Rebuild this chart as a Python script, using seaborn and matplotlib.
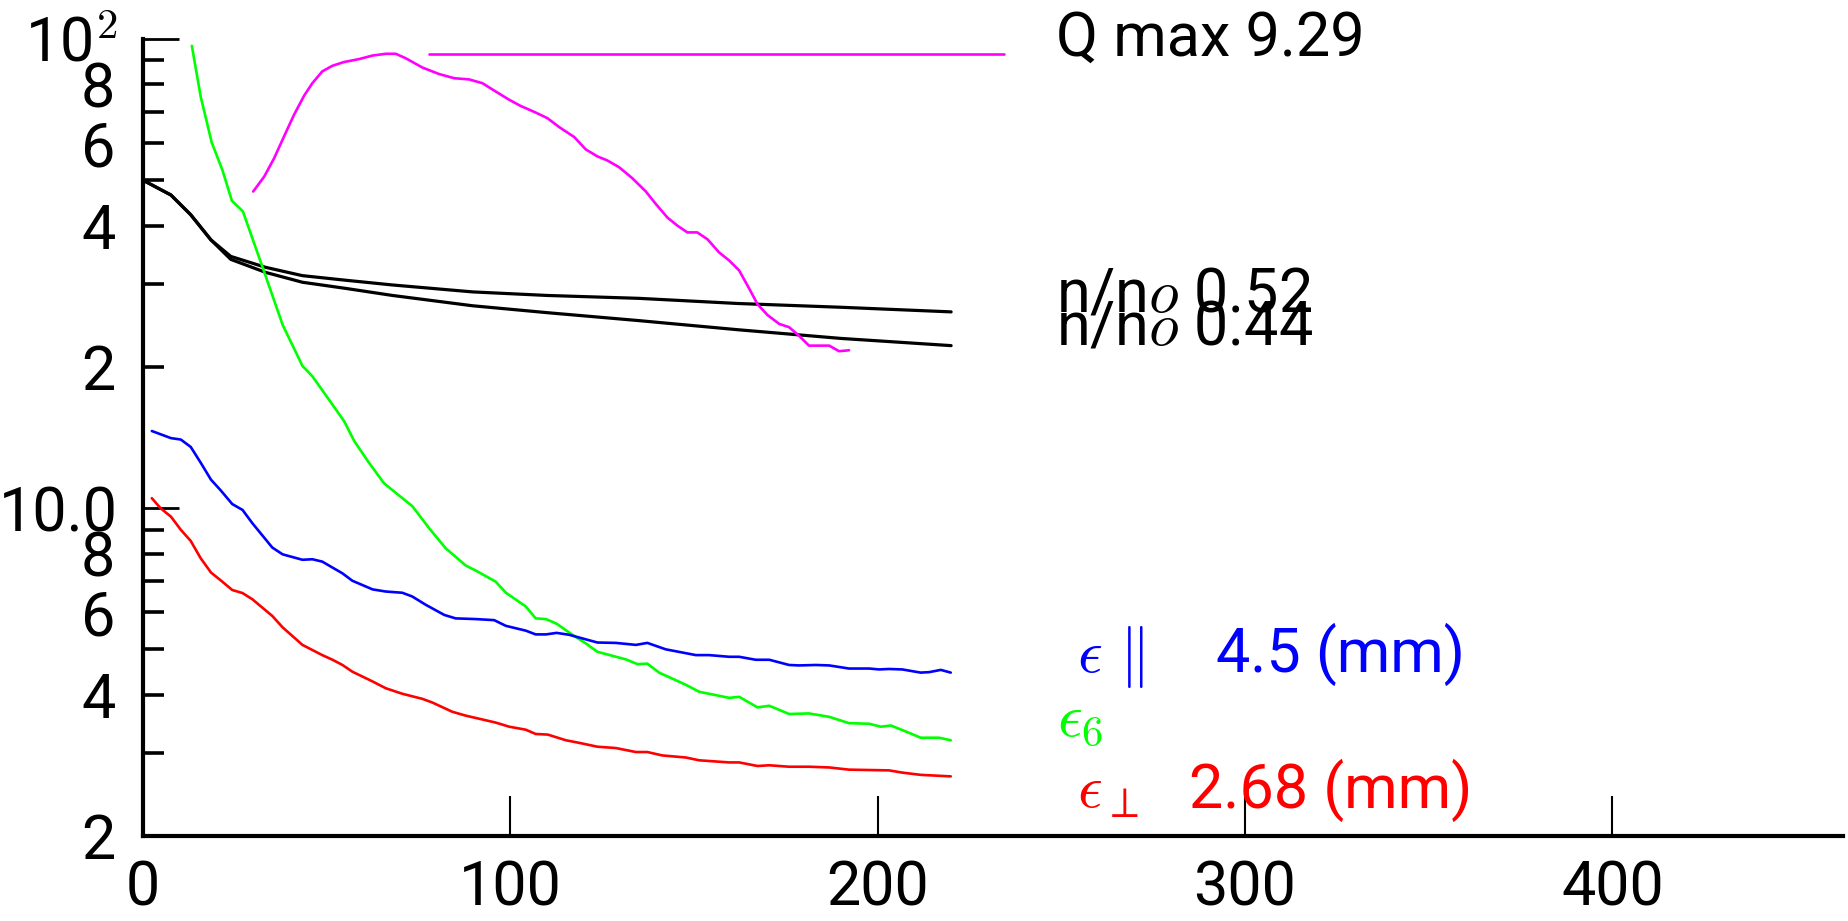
import matplotlib
matplotlib.use("Agg")
import matplotlib.pyplot as plt
import seaborn as sns
import pandas as pd

# ---------------- data ----------------
n_x = [0, 7.6, 13.0, 18.5, 23.9, 33.4, 43.4, 55.2, 67.9, 89.7, 110, 135, 162, 190, 220]
n_upper = [50.0, 46.5, 42.2, 37.3, 34.4, 32.6, 31.3, 30.6, 29.9, 28.9, 28.4, 28.0, 27.3, 26.8, 26.2]
n_lower = [50.0, 46.5, 42.2, 37.3, 33.9, 31.8, 30.3, 29.4, 28.4, 27.0, 26.1, 25.1, 24.0, 23.0, 22.2]

eps6_x = [13.3, 15.7, 18.7, 21.6, 24.2, 27.2, 32.5, 38.0, 43.4, 46.1,
          50.7, 54.8, 57.5, 61.5, 65.6, 69.3, 73.3, 77.9, 82.4, 87.9,
          90.6, 96.0, 98.8, 104.2, 106.9, 109.7, 112.6, 116.9, 120.5, 123.7,
          131.4, 134.6, 137.3, 140.5, 147.8, 151.4, 159.6, 162.3, 167.3, 170.5,
          175.9, 181.3, 186.8, 192.2, 197.7, 200.8, 203.6, 207.7, 211.7, 216.7,
          219.9]
eps6_y = [96.7, 75.4, 60.2, 52.6, 45.2, 42.9, 32.7, 24.6, 20.1, 19.1,
          17.0, 15.3, 13.9, 12.5, 11.3, 10.7, 10.1, 9.06, 8.21, 7.54,
          7.36, 6.97, 6.60, 6.17, 5.82, 5.80, 5.67, 5.37, 5.15, 4.94,
          4.76, 4.65, 4.66, 4.46, 4.20, 4.06, 3.94, 3.96, 3.76, 3.79,
          3.64, 3.65, 3.59, 3.48, 3.47, 3.42, 3.44, 3.34, 3.24, 3.24,
          3.20]

par_x = [2.4, 7.6, 10.3, 13.0, 15.7, 18.5, 21.2, 24.3, 27.1, 29.8,
         35.2, 38.0, 43.4, 46.1, 48.8, 54.3, 57.0, 62.5, 66.1, 70.6,
         73.3, 77.0, 82.0, 85.1, 90.6, 95.6, 98.8, 104.2, 106.9, 109.7,
         112.6, 116.0, 123.7, 128.7, 134.2, 137.3, 142.3, 150.5, 154.1, 159.6,
         162.3, 166.8, 170.5, 175.9, 178.6, 183.2, 186.8, 192.2, 197.7, 200.4,
         203.1, 206.7, 211.7, 214.0, 217.2, 219.9]
par_y = [14.6, 14.1, 14.0, 13.5, 12.5, 11.5, 10.9, 10.2, 9.91, 9.28,
         8.24, 7.97, 7.76, 7.78, 7.69, 7.26, 7.00, 6.71, 6.64, 6.60,
         6.48, 6.22, 5.92, 5.82, 5.80, 5.77, 5.61, 5.48, 5.38, 5.38,
         5.42, 5.37, 5.17, 5.16, 5.11, 5.16, 5.00, 4.86, 4.86, 4.82,
         4.82, 4.75, 4.75, 4.63, 4.62, 4.63, 4.62, 4.55, 4.55, 4.53,
         4.54, 4.53, 4.46, 4.47, 4.52, 4.46]

perp_x = [2.4, 4.8, 7.6, 10.3, 13.0, 15.7, 18.5, 21.2, 24.3, 27.1,
          29.8, 35.2, 38.0, 43.4, 48.8, 51.6, 54.3, 57.0, 62.5, 66.1,
          70.6, 76.1, 78.8, 84.2, 87.9, 93.3, 96.0, 99.7, 104.2, 106.9,
          110.2, 115.1, 118.7, 123.7, 128.7, 134.2, 137.3, 141.4, 147.8, 151.4,
          159.6, 162.3, 167.3, 170.5, 175.9, 181.3, 186.8, 192.2, 203.1, 206.7,
          211.7, 219.9]
perp_y = [10.5, 9.99, 9.59, 8.99, 8.51, 7.82, 7.29, 7.01, 6.69, 6.59,
          6.39, 5.89, 5.57, 5.11, 4.86, 4.75, 4.63, 4.48, 4.27, 4.13,
          4.02, 3.92, 3.85, 3.68, 3.61, 3.53, 3.49, 3.42, 3.37, 3.30,
          3.29, 3.20, 3.16, 3.10, 3.08, 3.02, 3.02, 2.97, 2.94, 2.90,
          2.87, 2.87, 2.82, 2.83, 2.81, 2.81, 2.80, 2.77, 2.76, 2.73,
          2.70, 2.68]

q_x = [30.0, 33.0, 35.7, 38.4, 41.1, 43.9, 46.1, 48.8, 51.6, 54.7,
       58.8, 62.5, 66.1, 68.8, 71.5, 76.1, 80.6, 84.7, 88.8, 92.4,
       96.0, 99.7, 102.8, 106.9, 110.1, 113.3, 117.4, 120.5, 123.7, 126.4,
       129.6, 133.2, 136.9, 139.6, 142.8, 145.5, 148.2, 150.9, 153.7, 156.8,
       159.6, 162.3, 165.0, 167.3, 170.0, 173.2, 175.9, 178.6, 181.3, 186.8,
       189.5, 192.2]
q_y = [47.3, 50.9, 55.7, 62.0, 68.9, 75.8, 80.5, 85.3, 87.7, 89.3,
       90.6, 92.2, 93.0, 93.0, 91.0, 86.9, 84.2, 82.5, 82.0, 80.5,
       77.3, 74.2, 72.0, 69.7, 67.8, 64.9, 61.8, 58.2, 56.2, 55.1,
       53.3, 50.5, 47.3, 44.5, 41.6, 40.0, 38.7, 38.7, 37.4, 35.1,
       33.7, 32.1, 29.4, 27.2, 25.8, 24.7, 24.3, 23.3, 22.2, 22.2,
       21.6, 21.7]

qmax_x = [77.9, 234.4]
qmax_y = [92.9, 92.9]

x_ticks = [0, 100, 200, 300, 400]
y_major = [10, 100]
y_major_labels = ["10.0", "10$^2$"]
y_minor = [2, 3, 4, 5, 6, 7, 8, 9, 20, 30, 40, 50, 60, 70, 80, 90]
y_minor_labels = ["2", "", "4", "", "6", "", "8", "", "2", "", "4", "", "6", "", "8", ""]

# ---------------- style ----------------
sns.set_style("ticks")
plt.rcParams["font.family"] = ["Roboto", "DejaVu Sans"]
plt.rcParams["mathtext.fontset"] = "cm"
for key in ["text.color", "axes.labelcolor", "xtick.color", "ytick.color",
            "xtick.labelcolor", "ytick.labelcolor", "axes.edgecolor"]:
    plt.rcParams[key] = "black"
FS = 44

fig = plt.figure(figsize=(18.49, 9.21), dpi=100)
ax = fig.add_axes([143 / 1849, 85 / 921, 1700 / 1849, 797 / 921])

def draw(x, y, color, lw):
    df = pd.DataFrame({"x": x, "y": y})
    sns.lineplot(data=df, x="x", y="y", color=color, linewidth=lw, ax=ax,
                 estimator=None, sort=False)

draw(n_x, n_upper, "black", 2.3)
draw(n_x, n_lower, "black", 2.3)
draw(eps6_x, eps6_y, "#00ff00", 1.9)
draw(par_x, par_y, "#0000ff", 1.9)
draw(perp_x, perp_y, "#ff0000", 1.9)
draw(q_x, q_y, "#ff00ff", 1.9)
draw(qmax_x, qmax_y, "#ff00ff", 1.9)

ax.set_yscale("log")
ax.set_xlim(0, 462.8)
ax.set_ylim(2, 100)
ax.set_xlabel("")
ax.set_ylabel("")

ax.set_xticks(x_ticks)
ax.set_xticklabels([str(v) for v in x_ticks])
ax.set_yticks(y_major)
ax.set_yticklabels(y_major_labels)
ax.set_yticks(y_minor, minor=True)
ax.set_yticklabels(y_minor_labels, minor=True)
ax.xaxis.set_minor_locator(matplotlib.ticker.NullLocator())

for s in ["top", "right"]:
    ax.spines[s].set_visible(False)
ax.spines["left"].set_linewidth(3)
ax.spines["bottom"].set_linewidth(3)

ax.tick_params(axis="x", which="major", direction="in", length=29, width=1.5,
               labelsize=FS, pad=17, color="black", labelcolor="black")
ax.tick_params(axis="y", which="major", direction="in", length=26, width=2,
               labelsize=FS, pad=18, color="black", labelcolor="black")
ax.tick_params(axis="y", which="minor", direction="in", length=15, width=2.6,
               labelsize=FS, pad=20, color="black", labelcolor="black")

# ---------------- annotations ----------------
ax.text(248.6, 92.0, "Q max 9.29", fontsize=FS, color="black", va="baseline", ha="left")
ax.text(248.6, 26.3, "n/n$o$ 0.52", fontsize=FS, color="black", va="baseline", ha="left")
ax.text(248.6, 22.3, "n/n$o$ 0.44", fontsize=FS, color="black", va="baseline", ha="left")
ax.text(254.3, 4.47, r"$\epsilon\ \|$", fontsize=FS, color="#0000ff", va="baseline", ha="left")
ax.text(292.2, 4.47, "4.5 (mm)", fontsize=FS, color="#0000ff", va="baseline", ha="left")
ax.text(248.9, 3.28, r"$\epsilon_6$", fontsize=FS, color="#00ff00", va="baseline", ha="left")
ax.text(254.3, 2.30, r"$\epsilon_\perp$", fontsize=FS, color="#ff0000", va="baseline", ha="left")
ax.text(284.8, 2.30, "2.68 (mm)", fontsize=FS, color="#ff0000", va="baseline", ha="left")

fig.savefig("out.png", dpi=100)
